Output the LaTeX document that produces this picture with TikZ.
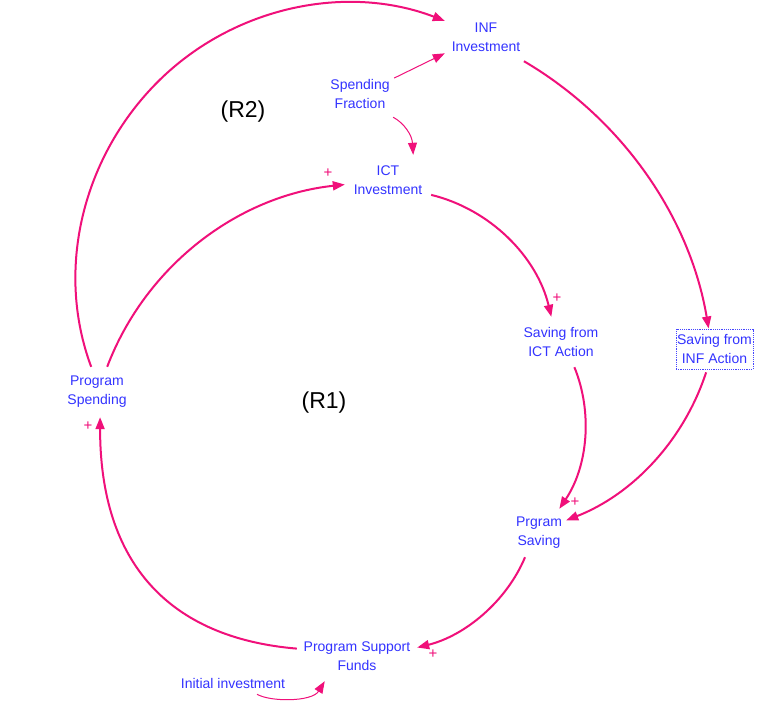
\documentclass[tikz,border=0pt]{standalone}
\usepackage{fontspec}
\setmainfont{Liberation Sans}
\usetikzlibrary{arrows.meta}
\definecolor{linkc}{RGB}{240,16,122}
\definecolor{txtc}{RGB}{51,51,255}
\definecolor{boxc}{RGB}{70,70,255}
\begin{document}
\begin{tikzpicture}[x=1pt,y=-1pt,
  var/.style={rectangle, inner sep=0pt, align=center, text=txtc, font=\fontsize{14}{19}\selectfont},
  link/.style={draw=linkc, line width=2pt, -{Triangle[length=12pt,width=9pt]}},
  thinlink/.style={draw=linkc, line width=1pt, -{Triangle[length=12pt,width=9pt]}},
  pol/.style={text=linkc, font=\fontsize{15}{15}\selectfont, inner sep=0pt},
  loopl/.style={font=\fontsize{23}{23}\selectfont, inner sep=0pt}
]
\useasboundingbox[fill=white] (0,0) rectangle (784,704);

% variables
\node[var, minimum width=82pt, minimum height=47pt] (inf) at (486,37.5) {INF\\Investment};
\node[var, minimum width=68pt, minimum height=46pt] (sf) at (360,94) {Spending\\Fraction};
\node[var, minimum width=86pt, minimum height=50pt] (ict) at (388,180) {ICT\\Investment};
\node[var, minimum width=84pt, minimum height=50pt] (sict) at (561,342) {Saving from\\ICT Action};
\node[var, draw=boxc, dash pattern=on 1.2pt off 1pt, line width=1pt, minimum width=77pt, minimum height=40pt] (sinf) at (714.5,349) {Saving from\\INF Action};
\node[var, minimum width=76pt, minimum height=50pt] (ps) at (97,392) {Program\\Spending};
\node[var, minimum width=54pt, minimum height=48pt] (prs) at (539,533) {Prgram\\Saving};
\node[var, minimum width=120pt, minimum height=50pt] (psf) at (357,656) {Program Support\\Funds};
\node[var, minimum width=110pt, minimum height=22pt] (ii) at (233,683) {Initial investment};

% loop labels
\node[loopl] (r2) at (243,112) {(R2)};
\node[loopl] (r1) at (324,403) {(R1)};

% connectors
\coordinate (m1) at (158.8,80.8);
\draw[link] (ps.103.5) .. controls (54.4,267.9) and (83.7,155) .. (m1)
  .. controls (233.9,6.6) and (346.4,-16.7) .. (inf.158.6);
\draw[link] (ps.68.2) .. controls (145.5,266) and (237.6,196) .. (ict.186.6);
\draw[thinlink] (sf.25.2) -- (inf.201.9);
\draw[thinlink] (sf.325.9) .. controls (404,123) and (412,135) .. (ict.45);
\draw[link] (inf.328.9) .. controls (622.3,119) and (689.9,217.2) .. (sinf.106.5);
\draw[link] (ict.341.6) .. controls (490.1,209.2) and (536.9,256.6) .. (sict.111.8);
\draw[link] (sict.298.4) .. controls (593.1,413.2) and (587.5,466.8) .. (prs.50.2);
\draw[link, shorten <=3pt] (sinf.250.5) .. controls (683.8,440.6) and (632.5,494.5) .. (prs.25.7);
\draw[link] (prs.240.3) .. controls (506.7,601.2) and (465.1,635.7) .. (psf.8.8);
\draw[link] (psf.173.6) .. controls (170,638) and (100,564) .. (ps.277.8);
\draw[thinlink] (ii.335.4) .. controls (270,702) and (312,702) .. (psf.218);

% polarities
\node[pol] (p1) at (328,173) {+};
\node[pol] (p2) at (557,298) {+};
\node[pol] (p3) at (575,502) {+};
\node[pol] (p4) at (433,654) {+};
\node[pol] (p5) at (88,426) {+};
\end{tikzpicture}
\end{document}
